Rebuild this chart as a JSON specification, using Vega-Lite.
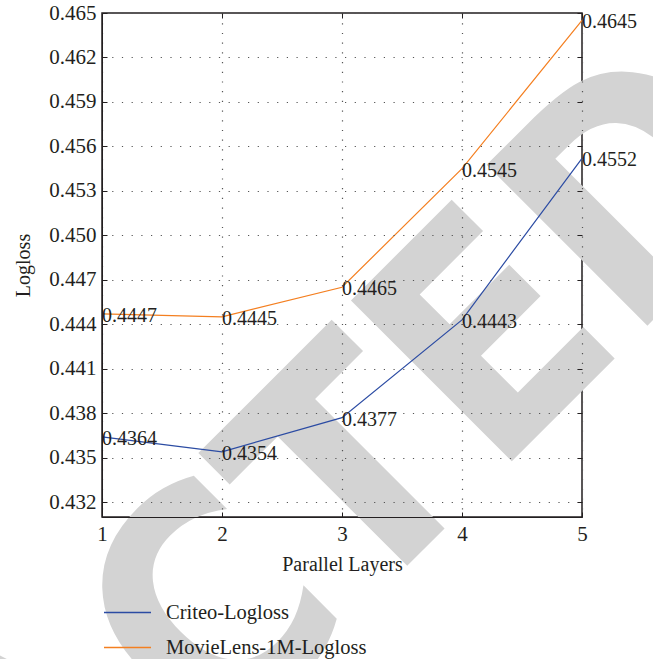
{
  "$schema": "https://vega.github.io/schema/vega-lite/v6.json",
  "autosize": {"type": "none"},
  "width": 480,
  "height": 504,
  "padding": {"left": 102, "top": 13, "right": 71, "bottom": 142},
  "background": "white",
  "config": {
    "view": {"stroke": "#231f20", "strokeWidth": 1.5},
    "font": "Liberation Serif",
    "axis": {
      "labelFont": "Liberation Serif",
      "titleFont": "Liberation Serif",
      "labelFontSize": 21,
      "titleFontSize": 20,
      "titleFontWeight": "normal",
      "labelColor": "#231f20",
      "titleColor": "#231f20",
      "domainColor": "#231f20",
      "tickColor": "#231f20",
      "gridColor": "#555555",
      "gridDash": [1.2, 8.5],
      "gridWidth": 1.2
    },
    "legend": {
      "labelFont": "Liberation Serif",
      "labelFontSize": 20.5,
      "labelColor": "#231f20"
    }
  },
  "datasets": {
    "logloss": [
      {"layers": 1, "series": "Criteo-Logloss", "logloss": 0.4364},
      {"layers": 2, "series": "Criteo-Logloss", "logloss": 0.4354},
      {"layers": 3, "series": "Criteo-Logloss", "logloss": 0.4377},
      {"layers": 4, "series": "Criteo-Logloss", "logloss": 0.4443},
      {"layers": 5, "series": "Criteo-Logloss", "logloss": 0.4552},
      {"layers": 1, "series": "MovieLens-1M-Logloss", "logloss": 0.4447},
      {"layers": 2, "series": "MovieLens-1M-Logloss", "logloss": 0.4445},
      {"layers": 3, "series": "MovieLens-1M-Logloss", "logloss": 0.4465},
      {"layers": 4, "series": "MovieLens-1M-Logloss", "logloss": 0.4545},
      {"layers": 5, "series": "MovieLens-1M-Logloss", "logloss": 0.4645}
    ],
    "stamp": [
      {"layers": 6.767, "logloss": 0.4538, "word": "RETRACTED"}
    ]
  },
  "layer": [
    {
      "data": {"name": "stamp"},
      "mark": {
        "type": "text",
        "font": "DejaVu Sans Condensed, Liberation Sans",
        "fontWeight": "bold",
        "fontSize": 312,
        "fill": "#d3d3d3",
        "angle": 315,
        "align": "right",
        "baseline": "alphabetic"
      },
      "encoding": {
        "x": {"field": "layers", "type": "quantitative", "scale": {"domain": [1, 5]}, "axis": null},
        "y": {"field": "logloss", "type": "quantitative", "scale": {"domain": [0.431, 0.465]}, "axis": null},
        "text": {"field": "word"}
      }
    },
    {
      "data": {"name": "logloss"},
      "mark": {"type": "line", "strokeWidth": 1.2},
      "encoding": {
        "x": {
          "field": "layers", "type": "quantitative",
          "scale": {"domain": [1, 5], "nice": false, "zero": false},
          "axis": {
            "title": "Parallel Layers",
            "values": [1, 2, 3, 4, 5],
            "format": "d",
            "tickSize": -5,
            "labelPadding": 11,
            "labelFlush": false,
            "labelOverlap": false,
            "titlePadding": 10,
            "grid": true,
            "zindex": 1
          }
        },
        "y": {
          "field": "logloss", "type": "quantitative",
          "scale": {"domain": [0.431, 0.465], "nice": false, "zero": false},
          "axis": {
            "title": "Logloss",
            "values": [0.432, 0.435, 0.438, 0.441, 0.444, 0.447, 0.45, 0.453, 0.456, 0.459, 0.462, 0.465],
            "format": ".3f",
            "tickSize": -5,
            "labelPadding": 11,
            "labelFlush": false,
            "labelOverlap": false,
            "titlePadding": 15,
            "grid": true,
            "zindex": 1
          }
        },
        "color": {
          "field": "series", "type": "nominal",
          "scale": {"domain": ["Criteo-Logloss", "MovieLens-1M-Logloss"], "range": ["#2b4ba3", "#f47f20"]},
          "legend": {
            "title": null,
            "orient": "none",
            "legendX": 1,
            "legendY": 575,
            "symbolType": "stroke",
            "symbolSize": 2209,
            "symbolStrokeWidth": 1.4,
            "symbolOpacity": 1,
            "labelOffset": 14,
            "labelLimit": 0,
            "rowPadding": -14,
            "zindex": 2,
            "encode": {
              "symbols": {"update": {"stroke": {"scale": "color", "field": "value"}, "opacity": {"value": 1}, "strokeOpacity": {"value": 1}}}
            }
          }
        }
      }
    },
    {
      "data": {"name": "logloss"},
      "mark": {"type": "text", "align": "left", "baseline": "middle", "dx": 0, "dy": 2, "fontSize": 20, "font": "Liberation Serif", "fill": "#231f20"},
      "encoding": {
        "x": {"field": "layers", "type": "quantitative", "axis": null},
        "y": {"field": "logloss", "type": "quantitative", "axis": null},
        "text": {"field": "logloss", "type": "quantitative", "format": ".4f"}
      }
    },
    {
      "data": {"name": "logloss"},
      "mark": {"type": "point", "opacity": 0},
      "encoding": {
        "x": {
          "field": "layers", "type": "quantitative",
          "axis": {"orient": "top", "values": [1, 2, 3, 4, 5], "labels": false, "title": null, "tickSize": -5, "grid": false, "domain": false, "zindex": 1}
        },
        "y": {
          "field": "logloss", "type": "quantitative",
          "axis": {"orient": "right", "values": [0.432, 0.435, 0.438, 0.441, 0.444, 0.447, 0.45, 0.453, 0.456, 0.459, 0.462, 0.465], "labels": false, "title": null, "tickSize": -5, "grid": false, "domain": false, "zindex": 1}
        }
      }
    }
  ],
  "resolve": {"axis": {"x": "independent", "y": "independent"}}
}
